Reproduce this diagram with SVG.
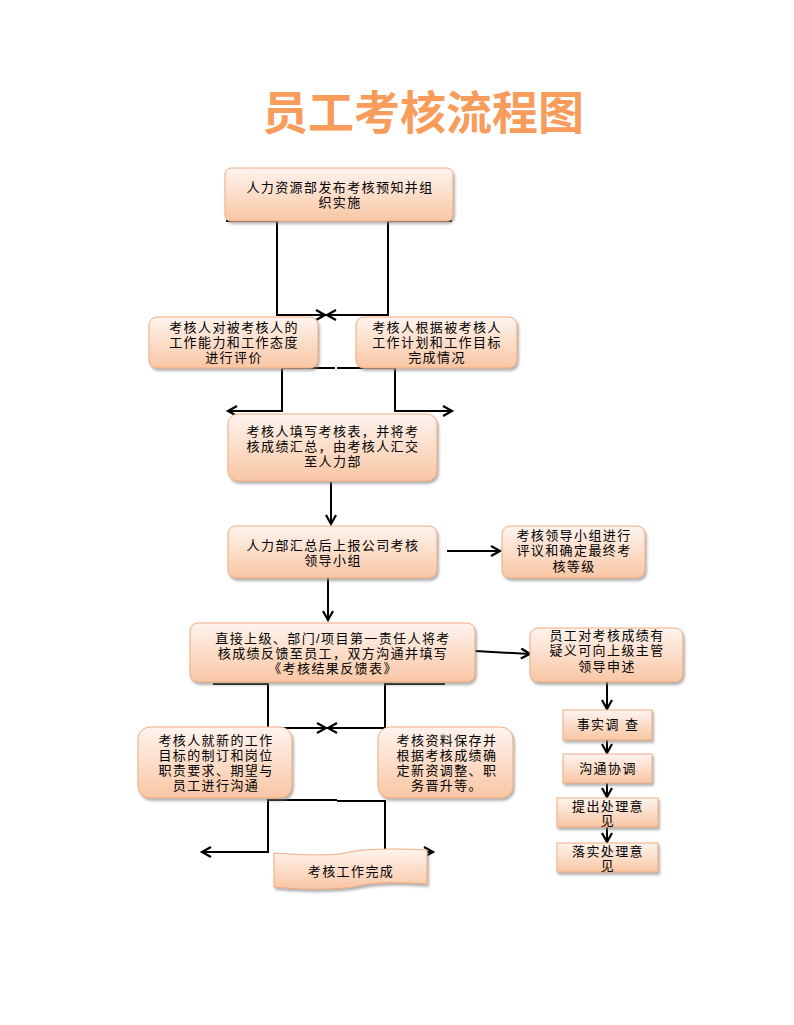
<svg xmlns="http://www.w3.org/2000/svg" width="794" height="1025" viewBox="0 0 794 1025">
<defs>
<linearGradient id="g" x1="0" y1="0" x2="0" y2="1">
<stop offset="0" stop-color="#FEF4EE"/>
<stop offset="1" stop-color="#F9C6A4"/>
</linearGradient>
<filter id="sh" x="-10%" y="-10%" width="125%" height="140%">
<feDropShadow dx="1.5" dy="2.5" stdDeviation="1.2" flood-color="#808080" flood-opacity="0.6"/>
</filter>
<marker id="ah" markerUnits="userSpaceOnUse" markerWidth="14" markerHeight="14" refX="10" refY="6" orient="auto">
<path d="M1,1 L10,6 L1,11" fill="none" stroke="#000" stroke-width="2.2"/>
</marker>
</defs>
<style>
.box{fill:url(#g);stroke:#F0AC80;stroke-width:1;filter:url(#sh)}
.t{font-family:"Liberation Sans","Noto Sans CJK SC",sans-serif;font-size:13px;letter-spacing:1.4px;fill:#000;text-anchor:middle}
.ln{fill:none;stroke:#000;stroke-width:2}
.ar{fill:none;stroke:#000;stroke-width:2;marker-end:url(#ah)}
.title{font-family:"Noto Sans CJK SC",sans-serif;font-size:46px;font-weight:bold;fill:#F89C5C;text-anchor:middle}
</style>
<rect width="794" height="1025" fill="#fff"/>
<text class="title" x="423" y="129">员工考核流程图</text>

<g id="connectors">
<path class="ln" d="M226,221 H277 V315 H315"/>
<path class="ar" d="M277,315 H325"/>
<path class="ln" d="M452,221 H388 V315 H337"/>
<path class="ar" d="M388,315 H327"/>
<path class="ar" d="M335,368 H282 V411 H228"/>
<path class="ar" d="M337,368 H395 V411 H452"/>
<path class="ar" d="M331,482 V524"/>
<path class="ar" d="M447,551 H500"/>
<path class="ar" d="M328,578 V620"/>
<path class="ar" d="M475,651 L530,654"/>
<path class="ar" d="M607,682 V709"/>
<path class="ar" d="M607,740 V753"/>
<path class="ar" d="M607,783 V797"/>
<path class="ar" d="M607,827 V842"/>
<path class="ar" d="M213,684 H268 V728 H326"/>
<path class="ar" d="M445,684 H385 V728 H328"/>
<path class="ar" d="M337,800 H268 V852 H202"/>
<path class="ar" d="M337,801 H385 V852 H433"/>
</g>

<g id="n1"><rect class="box" x="225" y="168" width="228" height="53" rx="6"/>
<text class="t" x="340" y="192">人力资源部发布考核预知并组</text><text class="t" x="340" y="207">织实施</text></g>

<g id="n2a"><rect class="box" x="149" y="317" width="169" height="51" rx="8"/>
<text class="t" x="234" y="332">考核人对被考核人的</text><text class="t" x="234" y="347">工作能力和工作态度</text><text class="t" x="234" y="362">进行评价</text></g>

<g id="n2b"><rect class="box" x="356" y="317" width="161" height="51" rx="8"/>
<text class="t" x="437" y="332">考核人根据被考核人</text><text class="t" x="437" y="347">工作计划和工作目标</text><text class="t" x="437" y="362">完成情况</text></g>

<g id="n3"><rect class="box" x="228" y="414" width="209" height="67" rx="10"/>
<text class="t" x="333" y="436">考核人填写考核表，并将考</text><text class="t" x="333" y="451">核成绩汇总，由考核人汇交</text><text class="t" x="333" y="466">至人力部</text></g>

<g id="n4"><rect class="box" x="228" y="526" width="209" height="52" rx="8"/>
<text class="t" x="333" y="550">人力部汇总后上报公司考核</text><text class="t" x="333" y="565">领导小组</text></g>

<g id="n4b"><rect class="box" x="502" y="526" width="143" height="52" rx="8"/>
<text class="t" x="574" y="540">考核领导小组进行</text><text class="t" x="574" y="555">评议和确定最终考</text><text class="t" x="574" y="571">核等级</text></g>

<g id="n5"><rect class="box" x="190" y="623" width="285" height="59" rx="8"/>
<text class="t" x="333" y="643">直接上级、部门/项目第一责任人将考</text><text class="t" x="333" y="658">核成绩反馈至员工，双方沟通并填写</text><text class="t" x="333" y="673">《考核结果反馈表》</text></g>

<g id="n5b"><rect class="box" x="530" y="628" width="153" height="54" rx="8"/>
<text class="t" x="607" y="640">员工对考核成绩有</text><text class="t" x="607" y="655">疑义可向上级主管</text><text class="t" x="607" y="671">领导申述</text></g>

<g id="n6a"><rect class="box" x="138" y="727" width="154" height="71" rx="12"/>
<text class="t" x="216" y="745">考核人就新的工作</text><text class="t" x="216" y="760">目标的制订和岗位</text><text class="t" x="216" y="775">职责要求、期望与</text><text class="t" x="216" y="790">员工进行沟通</text></g>

<g id="n6b"><rect class="box" x="378" y="727" width="135" height="71" rx="12"/>
<text class="t" x="447" y="745">考核资料保存并</text><text class="t" x="447" y="760">根据考核成绩确</text><text class="t" x="447" y="775">定新资调整、职</text><text class="t" x="447" y="790">务晋升等。</text></g>

<g id="n7"><path class="box" d="M274,853 C300,855 330,856 345,853 C360,849 390,848 427,850 L427,884 C400,882 375,882 358,886 C340,890 300,890 274,887 Z"/>
<text class="t" x="351" y="876">考核工作完成</text></g>

<g id="r1"><rect class="box" x="563" y="710" width="89" height="30"/>
<text class="t" x="608" y="729">事实调 查</text></g>
<g id="r2"><rect class="box" x="563" y="754" width="89" height="29"/>
<text class="t" x="608" y="773">沟通协调</text></g>
<g id="r3"><rect class="box" x="557" y="798" width="101" height="29"/>
<text class="t" x="608" y="811">提出处理意</text><text class="t" x="608" y="825">见</text></g>
<g id="r4"><rect class="box" x="557" y="843" width="101" height="29"/>
<text class="t" x="608" y="856">落实处理意</text><text class="t" x="608" y="870">见</text></g>
</svg>
